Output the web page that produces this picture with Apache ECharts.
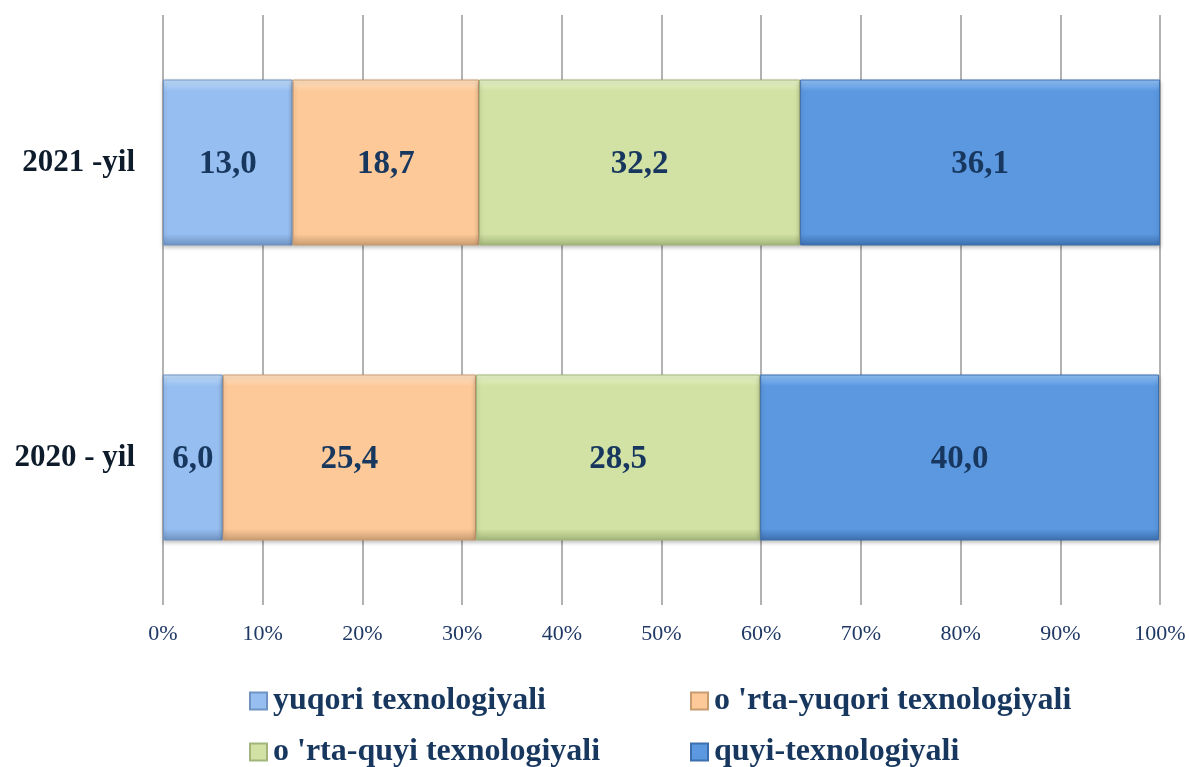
<!DOCTYPE html>
<html>
<head>
<meta charset="utf-8">
<script src="https://cdn.jsdelivr.net/npm/echarts@6/dist/echarts.min.js"></script>
<style>
  html, body { margin: 0; padding: 0; background: #fff; }
  #main { width: 1189px; height: 767px; }
</style>
</head>
<body>
<div id="main"></div>
<script>
// kategoriyalar (pastdan yuqoriga)
var years = ['2020 - yil', '2021 -yil']
var seriesNames = ['yuqori texnologiyali', "o 'rta-yuqori texnologiyali", "o 'rta-quyi texnologiyali", 'quyi-texnologiyali']
var yuqori = [6.0, 13.0]
var ortaYuqori = [25.4, 18.7]
var ortaQuyi = [28.5, 32.2]
var quyi = [40.0, 36.1]
var xTicks = [0, 10, 20, 30, 40, 50, 60, 70, 80, 90, 100]

// ranglar: [yorug', asosiy, qorong'i]
var palette = [
  ['#c4defb', '#96bef0', '#6f93c2'],
  ['#ffe2c4', '#fdc999', '#c99c70'],
  ['#eaf4cc', '#d1e2a4', '#a2b57a'],
  ['#93c3f7', '#5b98e0', '#3d6fae']
]

function bevel(c) {
  return {
    type: 'linear', x: 0, y: 0, x2: 0, y2: 1,
    colorStops: [
      { offset: 0, color: c[0] },
      { offset: 0.07, color: c[1] },
      { offset: 0.93, color: c[1] },
      { offset: 1, color: c[2] }
    ]
  }
}

var dataList = [yuqori, ortaYuqori, ortaQuyi, quyi]
var series = []
dataList.forEach(function (d, i) {
  series.push({
    name: seriesNames[i],
    type: 'bar',
    stack: 'total',
    barWidth: 166,
    data: d,
    itemStyle: {
      color: bevel(palette[i]),
      borderColor: palette[i][2],
      borderWidth: 1,
      shadowColor: 'rgba(0,0,0,0.25)',
      shadowBlur: 4,
      shadowOffsetY: 2
    },
    label: {
      show: true,
      position: 'inside',
      offset: [0, 2],
      fontFamily: 'Liberation Serif',
      fontWeight: 'bold',
      fontSize: 33,
      color: '#17375e',
      formatter: function (p) {
        return p.value.toFixed(1).replace('.', ',')
      }
    }
  })
})

var legendPos = [
  { left: 244, top: 680 },
  { left: 685, top: 680 },
  { left: 244, top: 731 },
  { left: 685, top: 731 }
]
var legends = seriesNames.map(function (n, i) {
  return {
    data: [{ name: n, icon: 'rect' }],
    left: legendPos[i].left,
    top: legendPos[i].top,
    itemWidth: 17,
    itemHeight: 17,
    itemGap: 0,
    selectedMode: false,
    textStyle: {
      fontFamily: 'Liberation Serif',
      fontWeight: 'bold',
      fontSize: 32,
      color: '#17375e',
      padding: [0, 0, 0, 1]
    }
  }
})

var chart = echarts.init(document.getElementById('main'))
chart.setOption({
  animation: false,
  color: palette.map(function (c) { return c[1] }),
  grid: { left: 163, right: 29, top: 15, bottom: 162 },
  legend: legends,
  xAxis: {
    type: 'value',
    min: xTicks[0],
    max: xTicks[xTicks.length - 1],
    interval: 10,
    axisLine: { show: false },
    axisTick: { show: false },
    axisLabel: {
      margin: 18,
      fontFamily: 'Liberation Serif',
      fontSize: 22,
      color: '#1f3864',
      formatter: '{value}%'
    },
    splitLine: { lineStyle: { color: '#999999', width: 1.5 } }
  },
  yAxis: {
    type: 'category',
    data: years,
    axisLine: { show: false },
    axisTick: { show: false },
    axisLabel: {
      margin: 28,
      fontFamily: 'Liberation Serif',
      fontWeight: 'bold',
      fontSize: 31,
      color: '#0d1b2a',
      padding: [4, 0, 0, 0]
    }
  },
  series: series
})
</script>
</body>
</html>
